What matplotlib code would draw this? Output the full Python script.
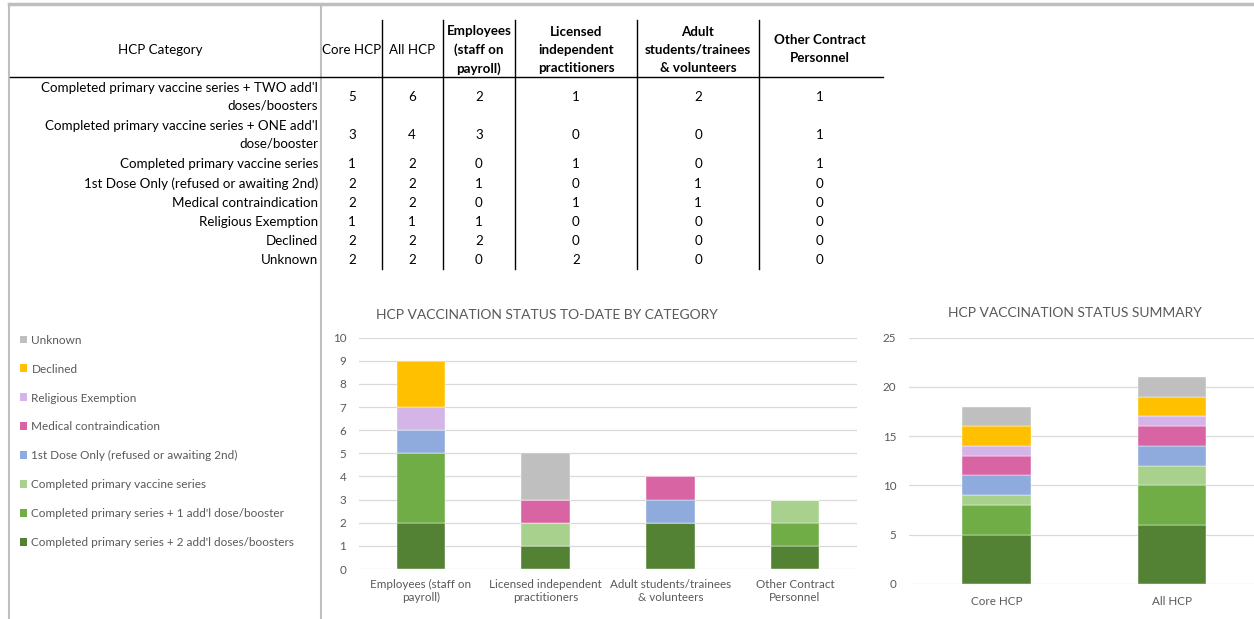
import numpy as np
import matplotlib
matplotlib.use("Agg")
import matplotlib.pyplot as plt
from matplotlib.lines import Line2D
from matplotlib.patches import Patch

plt.rcParams['font.family'] = ['Lato', 'DejaVu Sans']

# ---- data (from the table) ----
statuses = ["Completed primary vaccine series + TWO add'l\ndoses/boosters",
            "Completed primary vaccine series + ONE add'l\ndose/booster",
            "Completed primary vaccine series",
            "1st Dose Only (refused or awaiting 2nd)",
            "Medical contraindication",
            "Religious Exemption",
            "Declined",
            "Unknown"]
legend_labels = ["Completed primary series + 2 add'l doses/boosters",
                 "Completed primary series + 1 add'l dose/booster",
                 "Completed primary vaccine series",
                 "1st Dose Only (refused or awaiting 2nd)",
                 "Medical contraindication",
                 "Religious Exemption",
                 "Declined",
                 "Unknown"]
core_hcp = [5, 3, 1, 2, 2, 1, 2, 2]
all_hcp = [6, 4, 2, 2, 2, 1, 2, 2]
employees = [2, 3, 0, 1, 0, 1, 2, 0]
licensed = [1, 0, 1, 0, 1, 0, 0, 2]
adult = [2, 0, 0, 1, 1, 0, 0, 0]
other = [1, 1, 1, 0, 0, 0, 0, 0]

col_headers = ["Core HCP", "All HCP", "Employees\n(staff on\npayroll)",
               "Licensed\nindependent\npractitioners",
               "Adult\nstudents/trainees\n& volunteers",
               "Other Contract\nPersonnel"]
cat_labels = ["Employees (staff on\npayroll)", "Licensed independent\npractitioners",
              "Adult students/trainees\n& volunteers", "Other Contract\nPersonnel"]
sum_labels = ["Core HCP", "All HCP"]

colors = ['#548235', '#70AD47', '#A9D18E', '#8FAADC',
          '#D864A4', '#D5B4E8', '#FFC000', '#BFBFBF']
gray = '#595959'
grid_c = '#D9D9D9'

W, H = 1254, 619
fig = plt.figure(figsize=(W / 100, H / 100), dpi=100)


def fx(px):
    return px / W


def fy(py):
    return 1 - py / H


# ---- sheet borders ----
fig.add_artist(Line2D([fx(9), 1], [fy(3.5), fy(3.5)], color='#BFBFBF', lw=2.5))
fig.add_artist(Line2D([fx(9), fx(9)], [fy(3.5), 0], color='#BFBFBF', lw=1.5))
fig.add_artist(Line2D([fx(321), fx(321)], [fy(3.5), 0], color='#BFBFBF', lw=1.5))

# ---- table ----
tfs = 9.6
col_x = [352, 412, 479, 576, 698, 820]
row_y = [97, 135, 164, 184, 203, 222, 241, 260]
fig.add_artist(Line2D([fx(10), fx(883)], [fy(77), fy(77)], color='black', lw=1))
for vx in [382, 443, 515, 637, 759]:
    fig.add_artist(Line2D([fx(vx), fx(vx)], [fy(20), fy(269)], color='black', lw=1))

fig.text(fx(160), fy(50), "HCP Category", ha='center', va='center', fontsize=tfs)
for i, h in enumerate(col_headers):
    fig.text(fx(col_x[i]), fy(50 if i != 5 else 49.5), h, ha='center', va='center',
             fontsize=tfs, fontweight='bold' if i >= 2 else 'normal', linespacing=1.6)

table_cols = [core_hcp, all_hcp, employees, licensed, adult, other]
for r, lab in enumerate(statuses):
    fig.text(fx(318), fy(row_y[r]), lab, ha='right', va='center', fontsize=tfs,
             multialignment='right', linespacing=1.6)
    for c, vals in enumerate(table_cols):
        fig.text(fx(col_x[c]), fy(row_y[r]), str(vals[r]), ha='center', va='center', fontsize=tfs)

# ---- legend ----
handles = [Patch(facecolor=colors[i], label=legend_labels[i]) for i in range(8)][::-1]
fig.legend(handles=handles, loc='upper left', bbox_to_anchor=(fx(9), fy(324)),
           frameon=False, fontsize=8.5, labelspacing=1.52, handlelength=0.65,
           handleheight=0.65, handletextpad=0.35, labelcolor=gray)


def style(ax):
    for s in ax.spines.values():
        s.set_visible(False)
    ax.tick_params(length=0, colors=gray, labelsize=8.4)
    ax.yaxis.grid(True, color=grid_c, lw=0.9)
    ax.set_axisbelow(True)


# ---- left chart ----
ax1 = fig.add_axes([fx(358.7), fy(569), (857.3 - 358.7) / W, (569 - 337.7) / H])
x1 = np.arange(4)
data1 = np.array([employees, licensed, adult, other]).T
bottom = np.zeros(4)
for i in range(8):
    ax1.bar(x1, data1[i], 0.39, bottom=bottom, color=colors[i], edgecolor='white', lw=0.3)
    bottom += data1[i]
ax1.set_xlim(-0.5, 3.5)
ax1.set_ylim(0, 10)
ax1.set_yticks(range(0, 11))
ax1.set_xticks(x1)
ax1.set_xticklabels(cat_labels)
style(ax1)
ax1.tick_params(axis='y', pad=9)
ax1.tick_params(axis='x', pad=7.5)
fig.text(fx(547), fy(315), "HCP VACCINATION STATUS TO-DATE BY CATEGORY",
         ha='center', va='center', fontsize=10, color=gray)

# ---- right chart ----
ax2 = fig.add_axes([fx(908.75), fy(583.7), (W - 908.75) / W, (583.7 - 337.7) / H])
x2 = np.arange(2)
data2 = np.array([core_hcp, all_hcp]).T
bottom = np.zeros(2)
for i in range(8):
    ax2.bar(x2, data2[i], 0.39, bottom=bottom, color=colors[i], edgecolor='white', lw=0.3)
    bottom += data2[i]
ax2.set_xlim(-0.5, -0.5 + (W - 908.75) / 175.5)
ax2.set_ylim(0, 25)
ax2.set_yticks(range(0, 26, 5))
ax2.set_xticks(x2)
ax2.set_xticklabels(sum_labels)
style(ax2)
ax2.tick_params(axis='y', pad=9)
ax2.tick_params(axis='x', pad=9)
fig.text(fx(1074.5), fy(313), "HCP VACCINATION STATUS SUMMARY",
         ha='center', va='center', fontsize=10, color=gray)

fig.savefig("out.png", dpi=100)
